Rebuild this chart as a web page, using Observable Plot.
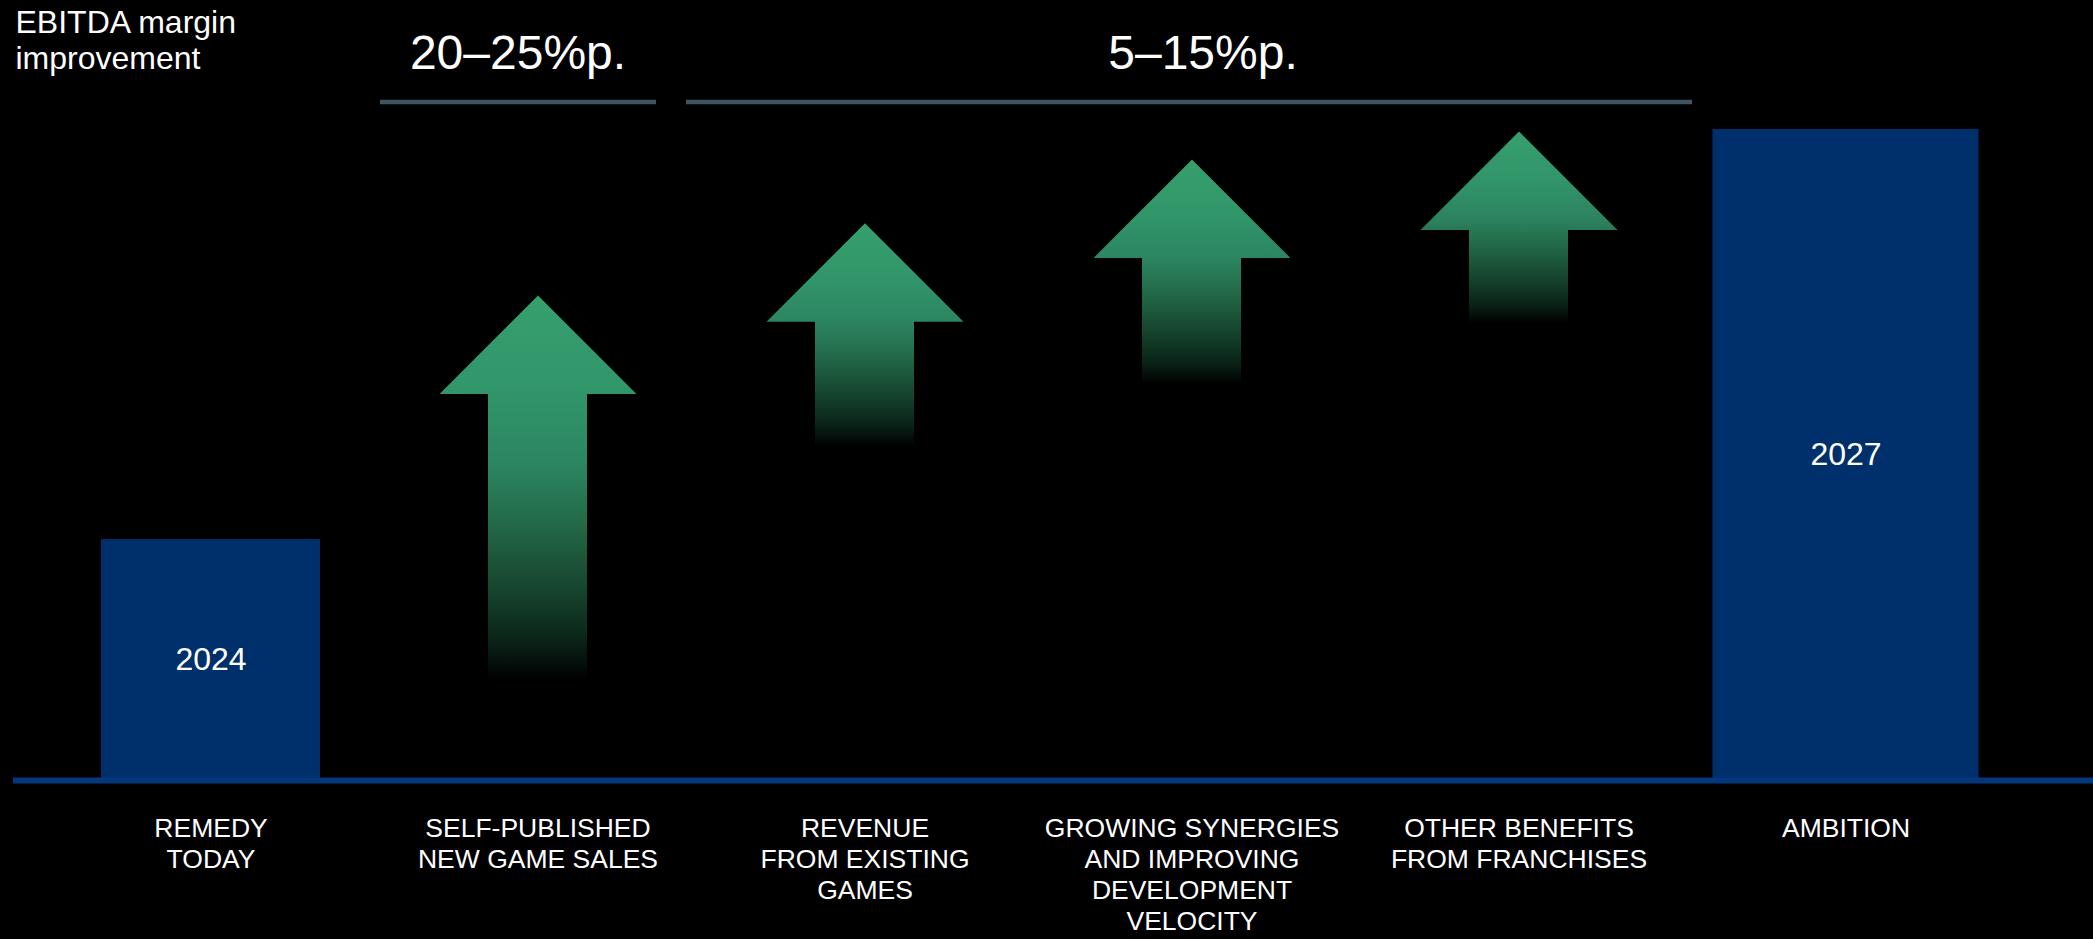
<!DOCTYPE html>
<html>
<head>
<meta charset="utf-8">
<script src="https://cdn.jsdelivr.net/npm/d3@7"></script>
<script src="https://cdn.jsdelivr.net/npm/@observablehq/plot@0.6"></script>
<style>
  html, body { margin: 0; padding: 0; background: #000; }
  #chart { width: 2093px; height: 939px; overflow: hidden; }
</style>
</head>
<body>
<div id="chart"></div>
<script>
// ---- data ----
const categories = [
  "REMEDY\nTODAY",
  "SELF-PUBLISHED\nNEW GAME SALES",
  "REVENUE\nFROM EXISTING\nGAMES",
  "GROWING SYNERGIES\nAND IMPROVING\nDEVELOPMENT\nVELOCITY",
  "OTHER BENEFITS\nFROM FRANCHISES",
  "AMBITION"
];
const barCategories = [categories[0], categories[5]];
const barValues = [37, 100];
const barLabels = ["2024", "2027"];

const arrowCategories = [categories[1], categories[2], categories[3], categories[4]];
const arrowFrom = [15.4, 51.2, 60.8, 70.2];
const arrowTo = [74.5, 85.6, 95.4, 99.7];

const groupLabels = ["20–25%p.", "5–15%p."];
const groupFrom = [categories[1], categories[2]];
const groupTo = [categories[1], categories[4]];
const groupCenter = [categories[1], categories[3]];

const yTitle = "EBITDA margin\nimprovement";

// ---- tables built from the arrays ----
const bars = barCategories.map((c, i) => ({cat: c, value: barValues[i], label: barLabels[i]}));
const arrows = arrowCategories.map((c, i) => ({cat: c, from: arrowFrom[i], to: arrowTo[i], i}));
const groups = groupLabels.map((l, i) => ({label: l, from: groupFrom[i], to: groupTo[i], at: groupCenter[i]}));
const yTop = d3.max(barValues);

// ---- styles ----
const FONT = "Arial, 'Liberation Sans', Helvetica, sans-serif";
const BAR = "#00306b";
const LINE = "#05377d";
const BRACKET = "#415462";
const HEAD_R = 98.5;     // half width / height of arrow head (px)
const SHAFT_W = 99;      // px
const W = 2093, H = 939;
const ML = 46.5, MR = 84.5, MT = 129, MB = 159;
const band = (W - ML - MR) / categories.length;
const bracketStyle = [
  {insetLeft: 6, insetRight: 45, dx: -20},
  {insetLeft: -15, insetRight: -10, dx: 11}
];

// arrow head symbol: apex at anchor, base below
const headSymbol = {
  draw(context, size) {
    const r = Math.sqrt(size / Math.PI);
    context.moveTo(0, 0);
    context.lineTo(r, r);
    context.lineTo(-r, r);
    context.closePath();
  }
};

const marks = [
  // brackets
  ...groups.map((g, i) => Plot.ruleY([g], {y: () => yTop, x1: "from", x2: "to", dy: -27.5, stroke: BRACKET, strokeWidth: 4.5, insetLeft: bracketStyle[i].insetLeft, insetRight: bracketStyle[i].insetRight})),
  ...groups.map((g, i) => Plot.text([g], {x: "at", y: () => yTop, text: "label", dx: bracketStyle[i].dx, dy: -61, lineAnchor: "bottom", fontSize: 48, fill: "white"})),
  // bars
  Plot.barY(bars.slice(0, 1), {x: "cat", y: "value", fill: BAR, inset: 0, insetLeft: (band - 219) / 2, insetRight: (band - 219) / 2}),
  Plot.barY(bars.slice(1), {x: "cat", y: "value", fill: BAR, inset: 0, insetLeft: (band - 266) / 2, insetRight: (band - 266) / 2}),
  Plot.text(bars, {x: "cat", y: d => d.value / 2, text: "label", fontSize: 32, fill: "white"}),
  // arrows
  ...arrows.map(a => Plot.barY([a], {x: "cat", y1: "from", y2: "to", insetTop: HEAD_R - 1.5, insetLeft: (band - SHAFT_W) / 2, insetRight: (band - SHAFT_W) / 2, fill: `url(#shaft-${a.i})`})),
  ...arrows.map(a => Plot.dot([a], {x: "cat", y: "to", r: HEAD_R, symbol: headSymbol, fill: `url(#head-${a.i})`, stroke: "none"})),
  // baseline
  Plot.ruleY([0], {stroke: LINE, strokeWidth: 6, insetLeft: -(ML - 13), insetRight: -MR}),
  // category labels
  Plot.text(categories, {x: d => d, frameAnchor: "bottom", lineAnchor: "top", dy: 34, fontSize: 26.5, lineHeight: 1.17, fill: "white"}),
  // y title
  Plot.text([yTitle], {frameAnchor: "top-left", textAnchor: "start", lineAnchor: "top", dx: -(ML - 15), dy: -123, fontSize: 32, lineHeight: 1.15, fill: "white"})
];

const chart = Plot.plot({
  width: W,
  height: H,
  marginLeft: ML,
  marginRight: MR,
  marginTop: MT,
  marginBottom: MB,
  style: {background: "#000", color: "white", fontFamily: FONT, overflow: "visible"},
  x: {type: "band", domain: categories, padding: 0, axis: null},
  y: {domain: [0, 100], axis: null},
  marks
});

// gradients for arrows, computed through the y scale
const svg = chart.tagName && chart.tagName.toLowerCase() === "svg" ? chart : chart.querySelector("svg");
const y = chart.scale("y");
const ramp = d3.scaleLinear()
  .domain([0, 0.25, 0.45, 0.6, 0.75, 0.9, 1])
  .range(["#37a06e", "#31956a", "#2c8460", "#226846", "#174830", "#0a2418", "#000000"])
  .interpolate(d3.interpolateRgb);
const NS = "http://www.w3.org/2000/svg";
const defs = document.createElementNS(NS, "defs");
function grad(id, t0, t1) {
  const g = document.createElementNS(NS, "linearGradient");
  g.setAttribute("id", id);
  g.setAttribute("x1", 0); g.setAttribute("x2", 0);
  g.setAttribute("y1", 0); g.setAttribute("y2", 1);
  const n = 12;
  for (let s = 0; s <= n; s++) {
    const stop = document.createElementNS(NS, "stop");
    stop.setAttribute("offset", s / n);
    stop.setAttribute("stop-color", ramp(t0 + (t1 - t0) * s / n));
    g.appendChild(stop);
  }
  defs.appendChild(g);
}
arrows.forEach(a => {
  const L = y.apply(a.from) - y.apply(a.to);
  grad(`head-${a.i}`, 0, HEAD_R / L);
  grad(`shaft-${a.i}`, (HEAD_R - 1.5) / L, 1);
});
svg.insertBefore(defs, svg.firstChild);

document.getElementById("chart").appendChild(chart);
</script>
</body>
</html>
